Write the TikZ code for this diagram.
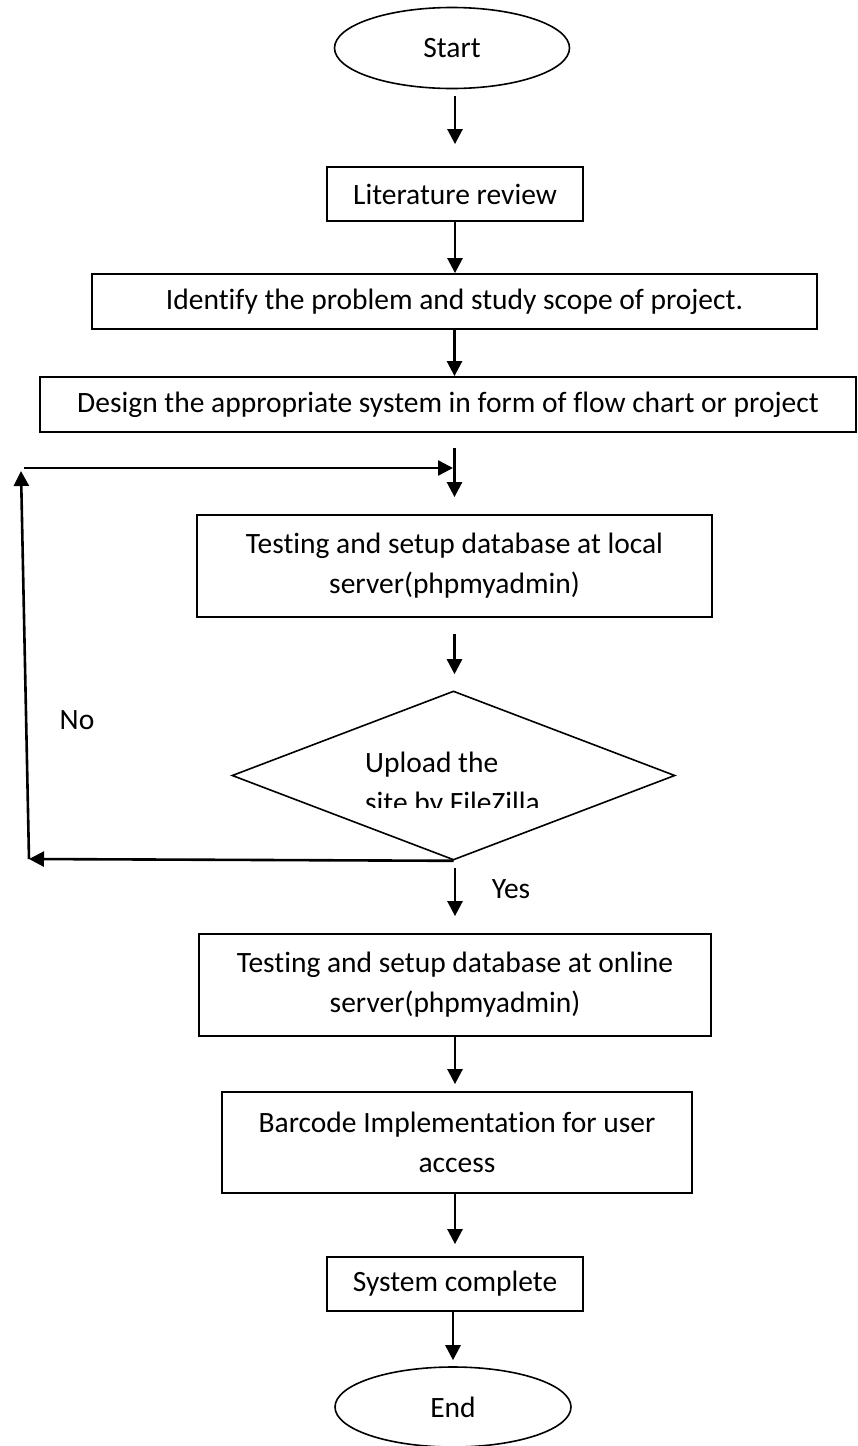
\documentclass[tikz,border=0pt]{standalone}
\usepackage{fontspec}
\setmainfont{Carlito}[RawFeature={-liga}]
\usetikzlibrary{shapes.geometric,arrows.meta}
\tikzset{%
  flowbox/.style  = {shape=rectangle, draw, line width=1.8pt,%
                     align=center, inner sep=0pt},%
  termnode/.style = {shape=ellipse, draw, line width=1.6pt,%
                     minimum width=235pt, minimum height=81pt},%
  decision/.style = {shape=diamond, draw, line width=1.6pt, inner sep=0pt,%
                     minimum width=443pt, minimum height=169pt},%
  flowarrow/.style= {line width=2.6pt,%
                     -{Triangle[length=15pt,width=15pt]}}%
}

\begin{document}
\begin{tikzpicture}[x=1pt,y=-1pt,
	every node/.style = {font=\fontsize{29.5}{40}\selectfont}]
		\useasboundingbox (0,0) rectangle (857,1446);
		\node [termnode] (start) at (452,48) {Start};
		\node [flowbox, minimum width=256pt, minimum height=54pt] (lit) at (455,194) {Literature review};
		\node [flowbox, minimum width=725pt, minimum height=55pt] (ident) at (454.5,301.5)
			{Identify the problem and study scope of project.};
		\node [flowbox, minimum width=816pt, minimum height=55pt] (design) at (448,404.5)
			{Design the appropriate system in form of flow chart or project};
		\node [flowbox, minimum width=515pt, minimum height=102pt] (local) at (454.5,566)
			{Testing and setup database at local\\server(phpmyadmin)};
		\node [decision] (dec) at (453.5,775.5) {};
		\begin{scope}
			\clip (300,700) rectangle (640,807);
			\node [anchor=base west, align=left, inner sep=0pt] (dectext) at (365,812)
				{Upload the\\site by FileZilla};
		\end{scope}
		\node [flowbox, minimum width=512pt, minimum height=102pt] (online) at (455,985)
			{Testing and setup database at online\\server(phpmyadmin)};
		\node [flowbox, minimum width=470pt, minimum height=101pt] (barcode) at (457,1142.5)
			{Barcode Implementation for user\\access};
		\node [flowbox, minimum width=256pt, minimum height=54pt] (sysc) at (455,1284) {System complete};
		\node [termnode, minimum width=236pt, minimum height=80pt] (end) at (453,1407) {End};
		\node (no) at (77,720) {No};
		\node (yes) at (511,889) {Yes};
		\coordinate (nobot) at (29,859);
		\coordinate (notop) at (21,471);
		\coordinate (nocorner) at (24,468);
		\coordinate (join) at (453,468);
		\draw [flowarrow, shorten <=7pt, shorten >=22pt] (start.south -| lit) -- (lit.north);
		\draw [flowarrow] (lit.south) -- (lit.south |- ident.north);
		\draw [flowarrow] (ident.south) -- (ident.south |- design.north);
		\draw [flowarrow, shorten <=15pt, shorten >=17pt] (design.south -| local) -- (local.north);
		\draw [flowarrow, shorten <=16pt, shorten >=16pt] (local.south) -- (local.south |- dec.north);
		\draw [flowarrow, shorten <=7pt, shorten >=17pt] (dec.south -| online) -- (online.north);
		\draw [flowarrow, shorten >=7pt] (online.south) -- (online.south |- barcode.north);
		\draw [flowarrow, shorten >=12pt] (barcode.south -| sysc) -- (sysc.north);
		\draw [flowarrow, shorten >=6pt] (sysc.south -| end) -- (end.north);
		\draw [flowarrow] (dec.south) -- (nobot);
		\draw [flowarrow] (nobot) -- (notop);
		\draw [flowarrow] (nocorner) -- (join);
	\end{tikzpicture}
\end{document}
